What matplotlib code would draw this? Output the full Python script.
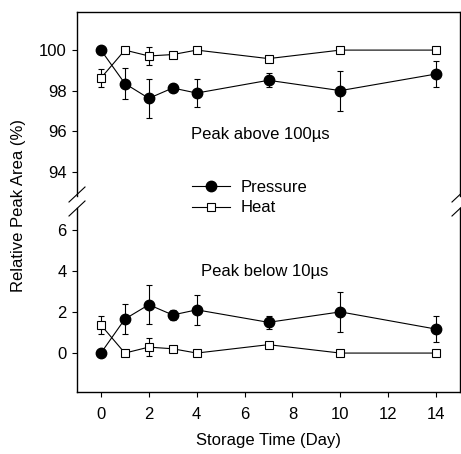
import matplotlib
matplotlib.use("Agg")
import matplotlib.pyplot as plt
from matplotlib.lines import Line2D

plt.rcParams['font.family'] = ['Liberation Sans', 'DejaVu Sans']

days = [0, 1, 2, 3, 4, 7, 10, 14]
# Peak above 100 µs
pressure_top = [100.0, 98.35, 97.62, 98.13, 97.88, 98.51, 98.0, 98.82]
pressure_top_err = [0.0, 0.76, 0.95, 0.18, 0.7, 0.34, 0.99, 0.66]
heat_top = [98.62, 100.0, 99.71, 99.78, 100.0, 99.58, 100.0, 100.0]
heat_top_err = [0.46, 0.0, 0.43, 0.1, 0.0, 0.08, 0.0, 0.0]
# Peak below 10 µs
pressure_bot = [0.0, 1.66, 2.36, 1.86, 2.11, 1.5, 2.01, 1.17]
pressure_bot_err = [0.0, 0.74, 0.95, 0.25, 0.72, 0.33, 0.98, 0.65]
heat_bot = [1.37, 0.0, 0.29, 0.21, 0.0, 0.41, 0.0, 0.0]
heat_bot_err = [0.46, 0.0, 0.43, 0.1, 0.0, 0.06, 0.0, 0.0]

xticks = [0, 2, 4, 6, 8, 10, 12, 14]
yticks_top = [94, 96, 98, 100]
yticks_bot = [0, 2, 4, 6]

W, H = 461, 454
fig = plt.figure(figsize=(W / 100, H / 100), dpi=100)

def fx(px):
    return px / W

def fy(py):
    return 1 - py / H

L, R = 77, 460
ax_t = fig.add_axes([fx(L), fy(196), fx(R) - fx(L), fy(12) - fy(196)])
ax_b = fig.add_axes([fx(L), fy(392), fx(R) - fx(L), fy(208) - fy(392)])

lw = 0.8
for ax, p, pe, h, he in [(ax_t, pressure_top, pressure_top_err, heat_top, heat_top_err),
                          (ax_b, pressure_bot, pressure_bot_err, heat_bot, heat_bot_err)]:
    ax.errorbar(days, p, yerr=pe, color='black', lw=lw, marker='o', ms=7.5,
                mfc='black', mec='black', capsize=2, elinewidth=lw, capthick=lw, zorder=3)
    ax.errorbar(days, h, yerr=he, color='black', lw=lw, marker='s', ms=5.5,
                mfc='white', mec='black', mew=0.8, capsize=2, elinewidth=lw, capthick=lw, zorder=4)
    ax.set_xlim(-1, 15)
    for s in ax.spines.values():
        s.set_linewidth(1.0)
    ax.tick_params(direction='out', length=3.5, width=0.8, labelsize=12, pad=4)

ax_t.set_ylim(92.8, 101.88)
ax_b.set_ylim(-1.9, 7.08)
ax_t.set_yticks(yticks_top)
ax_b.set_yticks(yticks_bot)
ax_b.set_xticks(xticks)
ax_t.set_xticks([])
ax_t.spines['bottom'].set_visible(False)
ax_b.spines['top'].set_visible(False)
ax_b.tick_params(axis='x', pad=7)

ax_t.text(3.75, 95.83, 'Peak above 100\u00b5s', fontsize=12, ha='left', va='center')
ax_b.text(4.17, 3.97, 'Peak below 10\u00b5s', fontsize=12, ha='left', va='center')

ax_b.set_xlabel('Storage Time (Day)', fontsize=12, labelpad=8)
fig.text(fx(18), fy(205), 'Relative Peak Area (%)', rotation=90, fontsize=12,
         ha='center', va='center')

handles = [Line2D([], [], color='black', lw=lw, marker='o', ms=7.5, mfc='black'),
           Line2D([], [], color='black', lw=lw, marker='s', ms=5.5, mfc='white', mew=0.8)]
fig.legend(handles, ['Pressure', 'Heat'], loc='center left',
           bbox_to_anchor=(fx(192), fy(197.5)), frameon=False, fontsize=12,
           borderpad=0, borderaxespad=0, handlelength=2.3, handletextpad=0.6,
           labelspacing=0.35, numpoints=1)

# break marks
for sx in (L, R):
    for cy in (194.5, 208.5):
        fig.add_artist(Line2D([fx(sx - 8), fx(sx + 8)], [fy(cy + 7.5), fy(cy - 7.5)],
                              color='black', lw=0.8, transform=fig.transFigure, clip_on=False))

fig.savefig('out.png', dpi=100)
